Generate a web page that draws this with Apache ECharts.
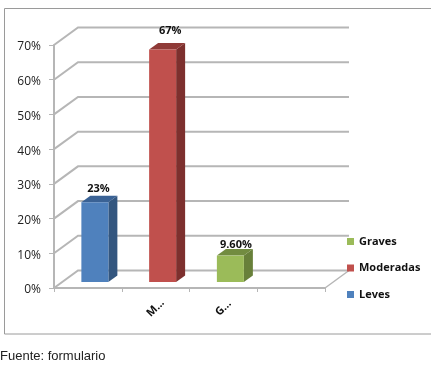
<!DOCTYPE html>
<html>
<head>
<meta charset="utf-8">
<style>
html, body { margin: 0; padding: 0; background: #fff; }
#chart { width: 431px; height: 365px; }
</style>
<script src="https://cdn.jsdelivr.net/npm/echarts@6/dist/echarts.min.js"></script>
</head>
<body>
<div id="chart"></div>
<script>
// datos
var categories = ['Leves', 'Moderadas', 'Graves', ''];
var tickLabels = ['', 'M...', 'G...', ''];
var seriesNames = ['Leves', 'Moderadas', 'Graves'];
var barValues = [23, 67, 7.6];
var barLabels = ['23%', '67%', '9.60%'];
var yTicks = [0, 10, 20, 30, 40, 50, 60, 70];
var legendOrder = ['Graves', 'Moderadas', 'Leves'];

// colores: frente, lado, tapa
var frontColors = ['#4f81bd', '#c0504d', '#9bbb59'];
var sideColors = ['#33567f', '#7d302e', '#68803a'];
var topColors = ['#3a6295', '#8f3a37', '#728c40'];

var gridColor = '#b6b6b6';
var depthX = 24, depthY = 17.5;   // fondo de la caja
var barW = 27, barSideX = 9, barSideY = 6.5, barShiftX = -6.5, barShiftY = 6;
var labelLift = [7, 12, 4];
var labelNudge = [-1, 3, 1];
var labelFont = '"Open Sans"';

var chart = echarts.init(document.getElementById('chart'), null, { renderer: 'canvas' });

// paredes del fondo
function renderWall(params, api) {
    var cs = params.coordSys;
    var y = api.coord([0, api.value(1)])[1];
    var left = cs.x, right = cs.x + cs.width;
    var kids = [{
        type: 'polyline',
        shape: { points: [[left, y], [left + depthX, y - depthY], [right + depthX, y - depthY]] },
        style: { stroke: gridColor, lineWidth: 2, fill: null }
    }];
    if (api.value(1) === 0) {
        kids.push({
            type: 'line',
            shape: { x1: right, y1: y, x2: right + depthX, y2: y - depthY },
            style: { stroke: gridColor, lineWidth: 1.5 }
        });
    }
    return { type: 'group', children: kids };
}

function renderBar(i) {
    return function (params, api) {
        var top = api.coord([api.value(0), api.value(1)]);
        var base = api.coord([api.value(0), 0]);
        var x0 = top[0] - barShiftX - barW / 2 + 0.5;
        var x1 = x0 + barW;
        var yTop = top[1] - barShiftY;
        var yBase = base[1] - barShiftY;
        return {
            type: 'group',
            children: [{
                type: 'polygon',
                shape: { points: [[x1, yTop], [x1 + barSideX, yTop - barSideY], [x1 + barSideX, yBase - barSideY], [x1, yBase]] },
                style: { fill: sideColors[i] }
            }, {
                type: 'polygon',
                shape: { points: [[x0, yTop], [x0 + barSideX, yTop - barSideY], [x1 + barSideX, yTop - barSideY], [x1, yTop]] },
                style: { fill: topColors[i] }
            }, {
                type: 'rect',
                shape: { x: x0, y: yTop, width: barW, height: yBase - yTop },
                style: { fill: frontColors[i] }
            }, {
                type: 'text',
                style: {
                    text: barLabels[i],
                    x: x0 + (barW + barSideX) / 2 + labelNudge[i],
                    y: yTop - barSideY - labelLift[i],
                    align: 'center',
                    verticalAlign: 'middle',
                    fill: '#111',
                    font: 'bold 11px ' + labelFont
                }
            }]
        };
    };
}

var series = [{
    type: 'custom',
    name: 'fondo',
    silent: true,
    z: 1,
    renderItem: renderWall,
    data: yTicks.map(function (v) { return [0, v]; })
}];
for (var i = 0; i < seriesNames.length; i++) {
    series.push({
        type: 'custom',
        name: seriesNames[i],
        z: 3,
        itemStyle: { color: frontColors[i] },
        renderItem: renderBar(i),
        data: [[i, barValues[i]]]
    });
}

var option = {
    backgroundColor: '#fff',
    animation: false,
    textStyle: { fontFamily: labelFont },
    grid: { left: 54, top: 45, width: 271, height: 243, containLabel: false },
    xAxis: {
        type: 'category',
        data: categories,
        boundaryGap: true,
        axisLine: { show: true, lineStyle: { color: gridColor, width: 2 } },
        axisTick: { show: true, length: 4, interval: 0, lineStyle: { color: gridColor, width: 1 } },
        axisLabel: {
            interval: 0,
            rotate: 45,
            align: 'center',
            verticalAlign: 'middle',
            margin: 20,
            color: '#111',
            fontWeight: 'bold',
            fontSize: 11,
            fontFamily: labelFont,
            formatter: function (v, idx) { return tickLabels[idx]; }
        },
        splitLine: { show: false }
    },
    yAxis: {
        type: 'value',
        min: 0,
        max: 70,
        interval: 10,
        axisLine: { show: true, lineStyle: { color: gridColor, width: 2 } },
        axisTick: { show: true, length: 5, lineStyle: { color: gridColor, width: 1 } },
        axisLabel: {
            margin: 13,
            verticalAlign: 'top',
            lineHeight: 4,
            color: '#222',
            fontSize: 12,
            fontFamily: labelFont,
            formatter: '{value}%'
        },
        splitLine: { show: false }
    },
    legend: {
        orient: 'vertical',
        left: 347,
        top: 236,
        padding: 0,
        itemWidth: 7,
        itemHeight: 7,
        itemGap: 15.5,
        icon: 'rect',
        selectedMode: false,
        data: legendOrder,
        textStyle: { color: '#111', fontWeight: 'bold', fontSize: 11, fontFamily: labelFont }
    },
    graphic: [{
        type: 'rect',
        silent: true,
        z: 0,
        shape: { x: 4.5, y: 8.5, width: 440, height: 325.5 },
        style: { fill: null, stroke: '#9a9a9a', lineWidth: 1 }
    }, {
        type: 'text',
        silent: true,
        left: 0,
        top: 350,
        style: { text: 'Fuente: formulario', fill: '#222', font: '13px "Liberation Sans"' }
    }],
    series: series
};

chart.setOption(option);
</script>
</body>
</html>
